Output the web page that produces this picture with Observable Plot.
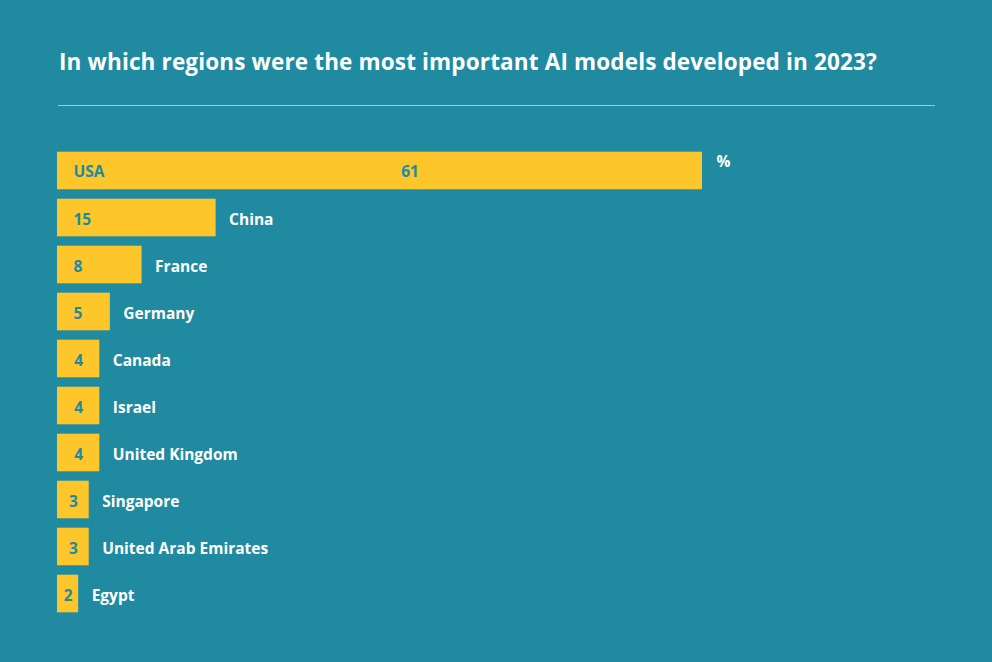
<!DOCTYPE html>
<html>
<head>
<meta charset="utf-8">
<script src="https://cdn.jsdelivr.net/npm/d3@7"></script>
<script src="https://cdn.jsdelivr.net/npm/@observablehq/plot@0.6"></script>
<style>
  html, body { margin: 0; padding: 0; background: #1f8aa0; }
  #wrap { width: 992px; height: 662px; position: relative; background: #1f8aa0; overflow: hidden; }
  #title { position: absolute; left: 59px; top: 51px; font-family: "Open Sans", sans-serif; font-weight: 700; font-size: 22.5px; line-height: 1; color: #ffffff; white-space: nowrap; letter-spacing: 0.15px; }
  #rule { position: absolute; left: 58px; top: 104.5px; width: 877px; height: 0; border-top: 1.6px solid #92d1dc; }
  #chart { position: absolute; left: 0; top: 120px; }
</style>
</head>
<body>
<div id="wrap">
  <div id="title">In which regions were the most important AI models developed in 2023?</div>
  <div id="rule"></div>
  <div id="chart"></div>
</div>
<script>
const regions = ["USA", "China", "France", "Germany", "Canada", "Israel", "United Kingdom", "Singapore", "United Arab Emirates", "Egypt"];
const shares = [61, 15, 8, 5, 4, 4, 4, 3, 3, 2];
const unitLabel = "%";

const data = regions.map((r, i) => ({region: r, value: shares[i]}));
const first = data.slice(0, 1);
const rest = data.slice(1);
const big = rest.filter(d => d.value >= 5);
const small = rest.filter(d => d.value < 5);

const teal = "#1f8aa0";
const yellow = "#fdc62a";
const font = "Open Sans, sans-serif";
const fs = 15.5;

const chart = Plot.plot({
  width: 992,
  height: 542,
  marginLeft: 57,
  marginRight: 290,
  marginTop: 22.3,
  marginBottom: 40.3,
  style: {background: "transparent", fontFamily: font},
  x: {domain: [0, 61], axis: null},
  y: {domain: regions, axis: null, padding: 0.2, round: false},
  marks: [
    Plot.barX(data, {x: "value", y: "region", fill: yellow}),
    // USA: name inside bar, value near middle
    Plot.text(first, {x: 0, y: "region", text: "region", textAnchor: "start", dx: 16, dy: 1.5, fill: teal, fontWeight: 700, fontSize: fs}),
    Plot.text(first, {x: d => d.value / 2, y: "region", text: d => String(d.value), textAnchor: "middle", dx: 30, dy: 1.5, fill: teal, fontWeight: 700, fontSize: fs}),
    Plot.text(first, {x: "value", y: "region", text: () => unitLabel, textAnchor: "start", dx: 14, dy: -9, fill: "white", fontWeight: 700, fontSize: fs}),
    // values inside other bars
    Plot.text(big, {x: 0, y: "region", text: d => String(d.value), textAnchor: "start", dx: 16, dy: 2, fill: teal, fontWeight: 700, fontSize: fs}),
    Plot.text(small, {x: d => d.value / 2, y: "region", text: d => String(d.value), textAnchor: "middle", dy: 2, fill: teal, fontWeight: 700, fontSize: fs}),
    // country names to the right
    Plot.text(rest, {x: "value", y: "region", text: "region", textAnchor: "start", dx: 13, dy: 2, fill: "white", fontWeight: 700, fontSize: fs})
  ]
});
document.getElementById("chart").appendChild(chart);
</script>
</body>
</html>
